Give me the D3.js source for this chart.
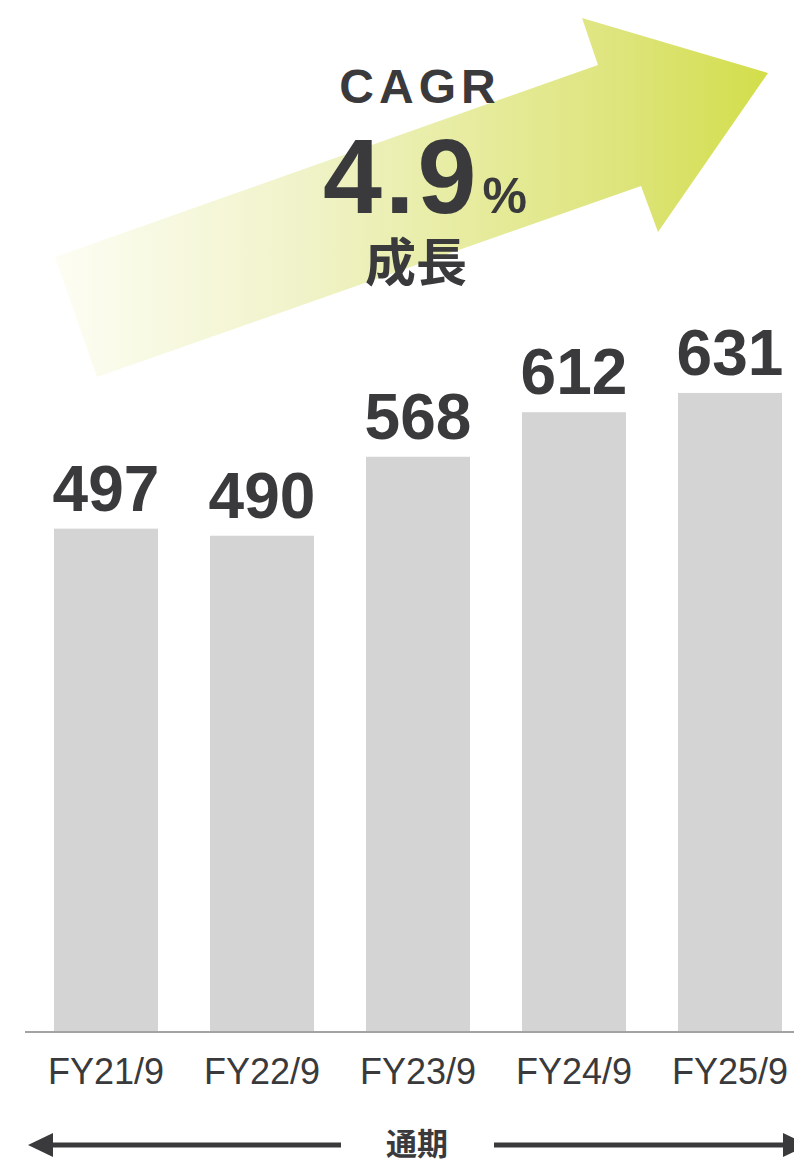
<!DOCTYPE html>
<html lang="ja">
<head>
<meta charset="utf-8">
<script src="https://cdn.jsdelivr.net/npm/d3@7"></script>
<style>
  html, body { margin: 0; padding: 0; background: #ffffff; }
  svg { display: block; }
</style>
</head>
<body>
<div id="chart"></div>
<script>
// Fiscal years and values (通期)
const categories = ["FY21/9", "FY22/9", "FY23/9", "FY24/9", "FY25/9"];
const values = [497, 490, 568, 612, 631];
const cagrLabel = "CAGR";
const cagrValue = "4.9";
const cagrUnit = "%";
const cagrCaption = "成長";
const periodLabel = "通期";

const W = 794, H = 1161;
const baseY = 1032;
const latin = "'Liberation Sans', Arial, Helvetica, sans-serif";
const cjk = "'Noto Sans CJK JP', 'Noto Sans CJK SC', sans-serif";
const ink = "#3a3a3c";

const svg = d3.select("#chart").append("svg")
  .attr("width", W).attr("height", H)
  .attr("viewBox", `0 0 ${W} ${H}`);

// Growth arrow with horizontal gradient
const defs = svg.append("defs");
const grad = defs.append("linearGradient")
  .attr("id", "growthGrad")
  .attr("gradientUnits", "userSpaceOnUse")
  .attr("x1", 55).attr("y1", 0).attr("x2", 768).attr("y2", 0);
[[0, "#fdfdf4"], [0.35, "#f0f3c8"], [0.6, "#e6eb9c"], [0.8, "#dde47a"], [1, "#d3de4a"]]
  .forEach(([o, c]) => grad.append("stop").attr("offset", o).attr("stop-color", c));

const arrowPts = [[55, 257], [598, 65], [582, 18], [768, 73], [658, 232], [641, 186], [97, 377]];
svg.append("path")
  .attr("d", d3.line()(arrowPts) + "Z")
  .attr("fill", "url(#growthGrad)");

// Scales
const x = d3.scaleBand()
  .domain(categories)
  .range([28, 808])
  .paddingInner(1 / 3)
  .paddingOuter(1 / 6);

const y = d3.scaleLinear()
  .domain([0, 1019])
  .range([baseY, 0]);

// Bars
svg.append("g").selectAll("rect")
  .data(values)
  .join("rect")
  .attr("x", (d, i) => x(categories[i]))
  .attr("y", d => y(d))
  .attr("width", x.bandwidth())
  .attr("height", d => baseY - y(d))
  .attr("fill", "#d4d4d4");

// Baseline axis
const axis = d3.axisBottom(x).tickSize(0).tickPadding(0).tickFormat(() => "");
const axisG = svg.append("g").attr("transform", `translate(0,${baseY})`).call(axis);
axisG.select(".domain").attr("d", `M25,0H${W}`).attr("stroke", "#a3a3a3").attr("stroke-width", 2);
axisG.selectAll(".tick text").remove();

// Category labels
svg.append("g").selectAll("text")
  .data(categories)
  .join("text")
  .attr("x", d => x(d) + x.bandwidth() / 2)
  .attr("y", 1084)
  .attr("text-anchor", "middle")
  .attr("font-family", latin)
  .attr("font-size", 36)
  .attr("fill", ink)
  .text(d => d);

// Value labels
svg.append("g").selectAll("text")
  .data(values)
  .join("text")
  .attr("x", (d, i) => x(categories[i]) + x.bandwidth() / 2)
  .attr("y", d => y(d) - 18)
  .attr("text-anchor", "middle")
  .attr("font-family", latin)
  .attr("font-weight", "bold")
  .attr("font-size", 64)
  .attr("fill", ink)
  .text(d => d);

// CAGR callout
svg.append("text")
  .attr("x", 420).attr("y", 103)
  .attr("text-anchor", "middle")
  .attr("font-family", latin).attr("font-weight", "bold")
  .attr("font-size", 48).attr("letter-spacing", 5)
  .attr("fill", ink)
  .text(cagrLabel);

const pct = svg.append("text")
  .attr("x", 425).attr("y", 213)
  .attr("text-anchor", "middle")
  .attr("font-family", latin).attr("font-weight", "bold")
  .attr("fill", ink);
pct.append("tspan").attr("font-size", 106).attr("letter-spacing", 3).text(cagrValue);
pct.append("tspan").attr("font-size", 50).attr("dx", 3).text(cagrUnit);

svg.append("text")
  .attr("x", 416).attr("y", 281)
  .attr("text-anchor", "middle")
  .attr("font-family", cjk).attr("font-weight", "bold")
  .attr("font-size", 51)
  .attr("fill", ink)
  .text(cagrCaption);

// Period indicator: double-headed arrow around 通期
const pY = 1145;
const pg = svg.append("g").attr("fill", ink);
pg.append("rect").attr("x", 50).attr("y", pY - 2.5).attr("width", 291).attr("height", 5);
pg.append("rect").attr("x", 494).attr("y", pY - 2.5).attr("width", 292).attr("height", 5);
pg.append("path").attr("d", d3.line()([[28, pY], [53, pY - 12], [53, pY + 12]]) + "Z");
pg.append("path").attr("d", d3.line()([[808, pY], [783, pY - 12], [783, pY + 12]]) + "Z");

svg.append("text")
  .attr("x", 417).attr("y", 1155)
  .attr("text-anchor", "middle")
  .attr("font-family", cjk).attr("font-weight", "bold")
  .attr("font-size", 31)
  .attr("fill", ink)
  .text(periodLabel);
</script>
</body>
</html>
